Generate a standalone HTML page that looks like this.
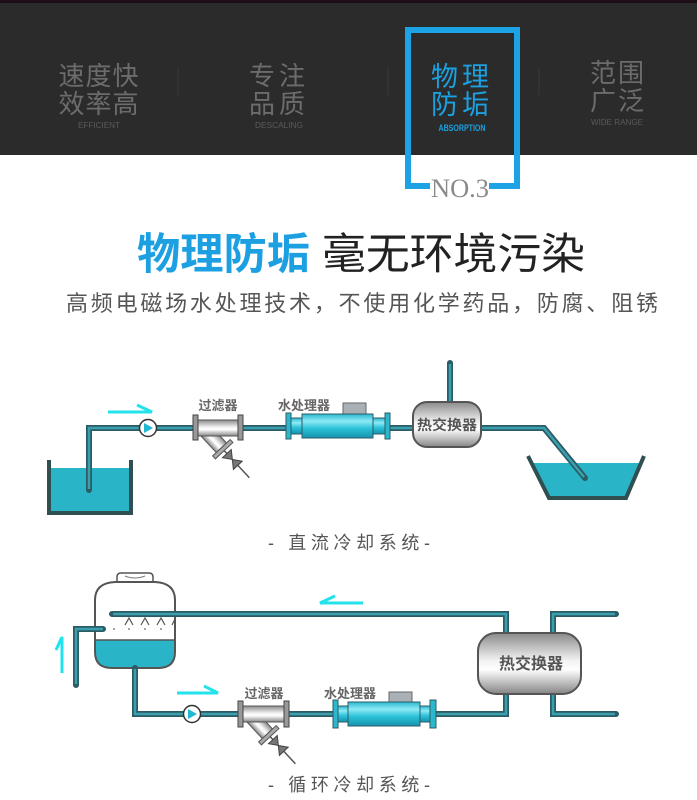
<!DOCTYPE html>
<html><head><meta charset="utf-8">
<style>
html,body{margin:0;padding:0;background:#fff;}
svg{display:block;}
text{font-family:"Liberation Sans","Noto Sans CJK SC",sans-serif;}
</style></head>
<body>
<svg width="697" height="800" viewBox="0 0 697 800" xmlns="http://www.w3.org/2000/svg">
<defs>
  <linearGradient id="gray" x1="0" y1="0" x2="0" y2="1">
    <stop offset="0" stop-color="#8a8a8a"/>
    <stop offset="0.45" stop-color="#f2f2f2"/>
    <stop offset="0.6" stop-color="#ffffff"/>
    <stop offset="1" stop-color="#858585"/>
  </linearGradient>
  <linearGradient id="cyan" x1="0" y1="0" x2="0" y2="1">
    <stop offset="0" stop-color="#2ab8d2"/>
    <stop offset="0.3" stop-color="#8eeaf5"/>
    <stop offset="0.6" stop-color="#2cc2d8"/>
    <stop offset="1" stop-color="#1592ad"/>
  </linearGradient>
  <clipPath id="towerClip">
    <path d="M95,600 Q95,583 115,582 H155 Q175,583 175,600 V652 Q175,668 158,668 H112 Q95,668 95,652 Z"/>
  </clipPath>
</defs>

<!-- header band -->
<rect x="0" y="0" width="697" height="155" fill="#2b2b2b"/>
<rect x="0" y="0" width="697" height="3" fill="#1c0d16"/>
<g stroke="#3a3a3a" stroke-width="1">
  <line x1="178" y1="68" x2="178" y2="95"/>
  <line x1="388" y1="68" x2="388" y2="95"/>
  <line x1="539" y1="68" x2="539" y2="95"/>
</g>
<g fill="#6c6c6c" text-anchor="middle" font-size="26">
  <text x="99" y="85" letter-spacing="1">速度快</text>
  <text x="99" y="113" letter-spacing="1">效率高</text>
  <text x="279" y="85" letter-spacing="4">专注</text>
  <text x="279" y="113" letter-spacing="4">品质</text>
  <text x="618" y="82" letter-spacing="2">范围</text>
  <text x="618" y="110" letter-spacing="2">广泛</text>
</g>
<g fill="#5a5a5a" text-anchor="middle" font-size="8">
  <text x="99" y="128" textLength="42" lengthAdjust="spacingAndGlyphs">EFFICIENT</text>
  <text x="279" y="128" textLength="48" lengthAdjust="spacingAndGlyphs">DESCALING</text>
  <text x="617" y="125" textLength="52" lengthAdjust="spacingAndGlyphs">WIDE RANGE</text>
</g>
<g fill="#1ba0e0" text-anchor="middle">
  <text x="462" y="86" font-size="27" letter-spacing="4">物理</text>
  <text x="462" y="114" font-size="27" letter-spacing="4">防垢</text>
  <text x="462" y="131" font-size="9" font-weight="bold" textLength="47" lengthAdjust="spacingAndGlyphs">ABSORPTION</text>
</g>
<!-- blue frame -->
<path d="M430,186 H408 V30 H517 V186 H489" fill="none" stroke="#1ba3e6" stroke-width="6"/>
<text x="460" y="197" text-anchor="middle" font-family="Liberation Serif, serif" font-size="26" fill="#8a8a8a" textLength="58" lengthAdjust="spacingAndGlyphs" style="font-family:'Liberation Serif',serif">NO.3</text>

<!-- title -->
<text x="137" y="269" font-size="43" font-weight="bold" fill="#1ca0e2" textLength="173" lengthAdjust="spacingAndGlyphs">物理防垢</text>
<text x="322" y="269" font-size="43" fill="#222" textLength="263" lengthAdjust="spacingAndGlyphs">毫无环境污染</text>
<text x="66" y="311" font-size="22" fill="#555" textLength="592" lengthAdjust="spacing">高频电磁场水处理技术，不使用化学药品，防腐、阻锈</text>

<!-- ============ Diagram 1 ============ -->
<!-- left tank -->
<rect x="51" y="468" width="78" height="43" fill="#2ab4c7"/>
<path d="M49,460 V513 H131 V460" fill="none" stroke="#2f4f50" stroke-width="4"/>
<!-- right tank -->
<polygon points="532,463 640,463 626,496 549,496" fill="#2ab4c7"/>
<path d="M528,456 L549,498 H626 L644,456" fill="none" stroke="#2f4f50" stroke-width="4"/>

<g fill="none" stroke-linejoin="miter">
  <g stroke="#2d5b63" stroke-width="6" stroke-linecap="round">
    <path d="M89,490 V428 H140"/>
    <path d="M157,428 H193"/>
    <path d="M243,428 H287"/>
    <path d="M390,428 H413"/>
    <path d="M481,428 H544 L585,478"/>
    <path d="M450,363 V402"/>
  </g>
  <g stroke="#3a9fae" stroke-width="2.5">
    <path d="M89,489 V428 H140"/>
    <path d="M157,428 H193"/>
    <path d="M243,428 H287"/>
    <path d="M390,428 H413"/>
    <path d="M481,428 H544 L584,477"/>
    <path d="M450,364 V402"/>
  </g>
</g>
<!-- arrow 1 -->
<path d="M108,412 H152 L137,405" fill="none" stroke="#22e2ec" stroke-width="3"/>
<!-- pump 1 -->
<circle cx="148" cy="428" r="8.5" fill="#fff" stroke="#333" stroke-width="1.5"/>
<polygon points="144,423 144,433 153,428" fill="#1fb8d0"/>
<!-- filter 1 -->
<g transform="translate(203,428) rotate(47)">
  <rect x="0" y="-7" width="27" height="14" fill="url(#gray)" stroke="#555" stroke-width="1"/>
  <rect x="27" y="-12" width="4" height="24" fill="#aaa" stroke="#555" stroke-width="1"/>
  <line x1="31" y1="0" x2="68" y2="0" stroke="#555" stroke-width="1.5"/>
  <polygon points="35,-6 35,6 43,0" fill="#777" stroke="#444" stroke-width="1"/>
  <polygon points="51,-6 51,6 43,0" fill="#777" stroke="#444" stroke-width="1"/>
</g>
<rect x="198" y="420" width="40" height="16" fill="url(#gray)" stroke="#555" stroke-width="1"/>
<rect x="193" y="415" width="5" height="25" fill="#999" stroke="#444" stroke-width="1"/>
<rect x="238" y="415" width="5" height="25" fill="#999" stroke="#444" stroke-width="1"/>
<text x="218" y="410" text-anchor="middle" font-size="13" font-weight="bold" fill="#666">过滤器</text>
<!-- processor 1 -->
<rect x="343" y="403" width="23" height="11" fill="#a9b1b7" stroke="#666" stroke-width="1"/>
<rect x="291" y="418" width="11" height="16" fill="url(#cyan)" stroke="#2d5b63" stroke-width="1"/>
<rect x="373" y="418" width="12" height="16" fill="url(#cyan)" stroke="#2d5b63" stroke-width="1"/>
<rect x="302" y="414" width="71" height="24" fill="url(#cyan)" stroke="#2d5b63" stroke-width="1"/>
<rect x="286" y="413" width="5" height="26" fill="#2bb8cf" stroke="#2d5b63" stroke-width="1"/>
<rect x="385" y="413" width="5" height="26" fill="#2bb8cf" stroke="#2d5b63" stroke-width="1"/>
<text x="304" y="410" text-anchor="middle" font-size="13" font-weight="bold" fill="#666">水处理器</text>
<!-- HX 1 -->
<rect x="413" y="402" width="68" height="45" rx="14" fill="url(#gray)" stroke="#555" stroke-width="2"/>
<text x="447" y="430" text-anchor="middle" font-size="14" font-weight="bold" fill="#555" textLength="60" lengthAdjust="spacingAndGlyphs">热交换器</text>

<text x="268" y="549" font-size="18" fill="#555" textLength="162" lengthAdjust="spacing">- 直流冷却系统-</text>

<!-- ============ Diagram 2 ============ -->
<!-- tower -->
<path d="M117,582 V577 Q117,573 121,573 H149 Q153,573 153,577 V582" fill="#fff" stroke="#555" stroke-width="1.5"/>
<path d="M125,576 Q135,580 145,576" fill="none" stroke="#777" stroke-width="1"/>
<path d="M95,600 Q95,583 115,582 H155 Q175,583 175,600 V652 Q175,668 158,668 H112 Q95,668 95,652 Z" fill="#fff"/>
<rect x="90" y="640" width="90" height="35" fill="#2ab4c7" clip-path="url(#towerClip)"/>
<line x1="95" y1="640" x2="175" y2="640" stroke="#555" stroke-width="1.5"/>
<path d="M95,600 Q95,583 115,582 H155 Q175,583 175,600 V652 Q175,668 158,668 H112 Q95,668 95,652 Z" fill="none" stroke="#555" stroke-width="2"/>
<g fill="none" stroke="#555" stroke-width="1.2">
  <path d="M125,625 L129,618 L133,625"/>
  <path d="M141,625 L145,618 L149,625"/>
  <path d="M157,625 L161,618 L165,625"/>
  <path d="M172,625 L175,619"/>
</g>
<g fill="#666">
  <circle cx="114" cy="629" r="0.9"/><circle cx="129" cy="629" r="0.9"/><circle cx="145" cy="629" r="0.9"/><circle cx="161" cy="629" r="0.9"/>
</g>

<g fill="none">
  <g stroke="#2d5b63" stroke-width="6" stroke-linecap="round">
    <path d="M112,614 H506 V633"/>
    <path d="M103,629 H76 V685"/>
    <path d="M135,668 V714 H183"/>
    <path d="M201,714 H240"/>
    <path d="M286,714 H333"/>
    <path d="M436,714 H506 V694"/>
    <path d="M553,633 V614 H616"/>
    <path d="M553,694 V714 H616"/>
  </g>
  <g stroke="#3a9fae" stroke-width="2.5">
    <path d="M113,614 H506 V633"/>
    <path d="M103,629 H76 V684"/>
    <path d="M135,669 V714 H183"/>
    <path d="M201,714 H240"/>
    <path d="M286,714 H333"/>
    <path d="M436,714 H506 V694"/>
    <path d="M553,633 V614 H615"/>
    <path d="M553,694 V714 H615"/>
  </g>
</g>
<!-- arrows -->
<g fill="none" stroke="#22e2ec" stroke-width="3">
  <path d="M335,596 L320,603 H363"/>
  <path d="M177,693 H218 L204,686"/>
  <path d="M56,650 L62,637 V673"/>
</g>
<!-- pump 2 -->
<circle cx="192" cy="714" r="8.5" fill="#fff" stroke="#333" stroke-width="1.5"/>
<polygon points="188,709 188,719 197,714" fill="#1fb8d0"/>
<!-- filter 2 -->
<g transform="translate(249,714) rotate(47)">
  <rect x="0" y="-7" width="27" height="14" fill="url(#gray)" stroke="#555" stroke-width="1"/>
  <rect x="27" y="-12" width="4" height="24" fill="#aaa" stroke="#555" stroke-width="1"/>
  <line x1="31" y1="0" x2="68" y2="0" stroke="#555" stroke-width="1.5"/>
  <polygon points="35,-6 35,6 43,0" fill="#777" stroke="#444" stroke-width="1"/>
  <polygon points="51,-6 51,6 43,0" fill="#777" stroke="#444" stroke-width="1"/>
</g>
<rect x="243" y="706" width="41" height="16" fill="url(#gray)" stroke="#555" stroke-width="1"/>
<rect x="238" y="701" width="5" height="26" fill="#999" stroke="#444" stroke-width="1"/>
<rect x="284" y="701" width="5" height="26" fill="#999" stroke="#444" stroke-width="1"/>
<text x="264" y="698" text-anchor="middle" font-size="13" font-weight="bold" fill="#666">过滤器</text>
<!-- processor 2 -->
<rect x="389" y="692" width="23" height="10" fill="#a9b1b7" stroke="#666" stroke-width="1"/>
<rect x="338" y="706" width="10" height="16" fill="url(#cyan)" stroke="#2d5b63" stroke-width="1"/>
<rect x="420" y="706" width="10" height="16" fill="url(#cyan)" stroke="#2d5b63" stroke-width="1"/>
<rect x="348" y="702" width="72" height="24" fill="url(#cyan)" stroke="#2d5b63" stroke-width="1"/>
<rect x="333" y="700" width="5" height="28" fill="#2bb8cf" stroke="#2d5b63" stroke-width="1"/>
<rect x="430" y="700" width="6" height="28" fill="#2bb8cf" stroke="#2d5b63" stroke-width="1"/>
<text x="350" y="698" text-anchor="middle" font-size="13" font-weight="bold" fill="#666">水处理器</text>
<!-- HX 2 -->
<rect x="478" y="633" width="103" height="61" rx="18" fill="url(#gray)" stroke="#555" stroke-width="2"/>
<text x="531" y="669" text-anchor="middle" font-size="16" font-weight="bold" fill="#555" textLength="64" lengthAdjust="spacingAndGlyphs">热交换器</text>

<text x="268" y="791" font-size="18" fill="#555" textLength="162" lengthAdjust="spacing">- 循环冷却系统-</text>
</svg>
</body></html>
